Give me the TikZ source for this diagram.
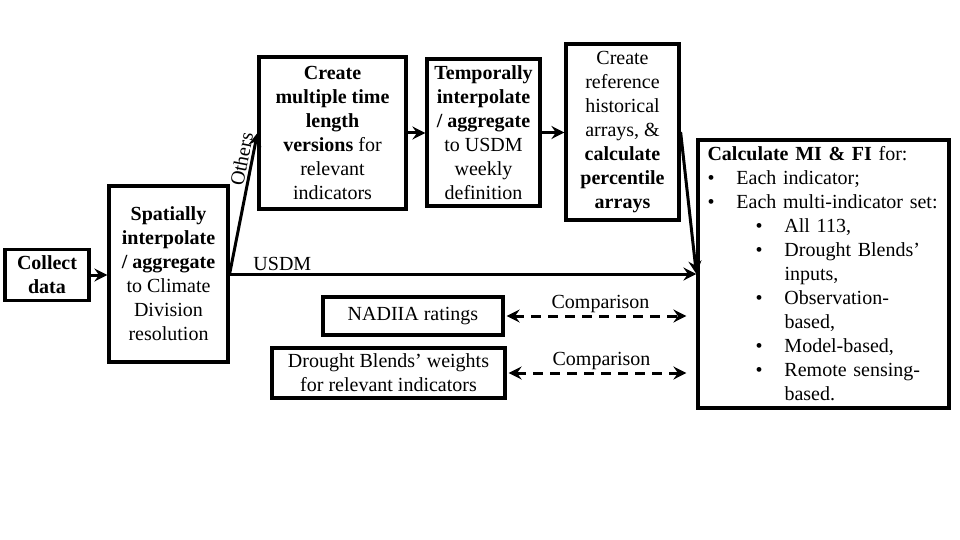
\documentclass[tikz,border=0pt]{standalone}
\usepackage{fontspec}
\setmainfont{Liberation Serif}
\usetikzlibrary{arrows.meta}

\newcommand{\lvlone}{\makebox[29pt][l]{\textbullet}}
\newcommand{\lvltwo}{\hspace*{48pt}\makebox[29pt][l]{\textbullet}}

\begin{document}
\begin{tikzpicture}[x=1pt,y=-1pt,
    box/.style={draw, line width=3.2pt, inner sep=0pt, align=center,
        font=\fontsize{20}{24}\selectfont},
    arr/.style={line width=3pt, -{Stealth[length=13pt,width=13pt,inset=4.5pt]}},
    cmparr/.style={line width=3pt, dash pattern=on 10pt off 7pt,
        {Stealth[length=13pt,width=13pt,inset=4.5pt]}-{Stealth[length=13pt,width=13pt,inset=4.5pt]},
        shorten <=2pt, shorten >=10pt},
    lbl/.style={font=\fontsize{20}{24}\selectfont, inner sep=2pt}]
    \useasboundingbox (0,0) rectangle (960,540);

    % Draw the steps
    \node[box, minimum width=84pt, minimum height=51pt] (collect) at (47,275)
        {\textbf{Collect}\\\textbf{data}};
    \node[box, minimum width=119pt, minimum height=176pt] (spatial) at (168.5,274)
        {\textbf{Spatially}\\\textbf{interpolate}\\\textbf{/ aggregate}\\to Climate\\Division\\resolution};
    \node[box, minimum width=147pt, minimum height=152pt] (multi) at (332.5,133)
        {\textbf{Create}\\\textbf{multiple time}\\\textbf{length}\\\textbf{versions} for\\relevant\\indicators};
    \node[box, minimum width=113pt, minimum height=147pt] (temporal) at (483.5,132.5)
        {\textbf{Temporally}\\\textbf{interpolate}\\\textbf{/ aggregate}\\to USDM\\weekly\\definition};
    \node[box, minimum width=113pt, minimum height=176pt] (refarr) at (622.5,132)
        {Create\\reference\\historical\\arrays, \&\\\textbf{calculate}\\\textbf{percentile}\\\textbf{arrays}};
    \node[box, minimum width=251pt, minimum height=268pt, align=left,
        text width=232pt, inner xsep=9.5pt] (calc) at (823.5,274)
        {\textbf{Calculate MI \& FI} for:\\
        \lvlone Each indicator;\\
        \lvlone Each multi-indicator set:\\
        \lvltwo All 113,\\
        \lvltwo Drought Blends’\\
        \hspace*{77pt}inputs,\\
        \lvltwo Observation-\\
        \hspace*{77pt}based,\\
        \lvltwo Model-based,\\
        \lvltwo Remote sensing-\\
        \hspace*{77pt}based.};

    % Draw the references
    \node[box, minimum width=180pt, minimum height=38pt] (nadiia) at (413,316)
        {NADIIA ratings};
    \node[box, minimum width=233pt, minimum height=50pt] (blends) at (388.5,373)
        {Drought Blends’ weights\\for relevant indicators};

    % Draw the flow
    \draw[arr] (collect.east) -- (spatial.west |- collect.east);
    \draw[arr] (spatial.east) -- node[lbl, sloped, above, pos=0.8] {Others} (multi.west);
    \draw[arr] (spatial.east) -- node[lbl, above, pos=0.113] {USDM} (calc.west |- spatial.east);
    \foreach \a/\b in {multi/temporal, temporal/refarr} {
        \draw[arr] (\a.east) -- (\b.west |- \a.east);
    };
    \draw[arr] (refarr.east) -- (calc.west);

    % Comparisons
    \foreach \src in {nadiia, blends} {
        \draw[cmparr] (\src.east) -- node[lbl, above] {Comparison} (calc.west |- \src.east);
    };
\end{tikzpicture}
\end{document}
